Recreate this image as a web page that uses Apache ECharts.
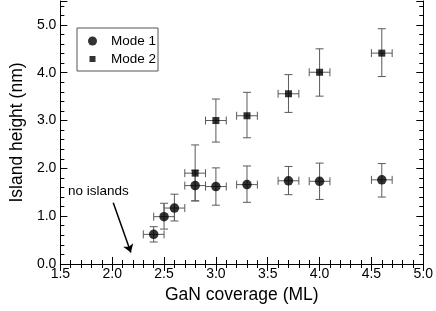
<!DOCTYPE html>
<html>
<head>
<meta charset="utf-8">
<script src="https://cdn.jsdelivr.net/npm/echarts@6/dist/echarts.min.js"></script>
<style>
  html, body { margin: 0; padding: 0; background: #fff; }
  #chart { width: 436px; height: 311px; }
</style>
</head>
<body>
<div id="chart"></div>
<script>
// ---- Data ----
const coverage1 = [2.4, 2.5, 2.6, 2.8, 3.0, 3.3, 3.7, 4.0, 4.6];
const height1   = [0.62, 0.99, 1.17, 1.64, 1.62, 1.66, 1.74, 1.73, 1.76];
const low1      = [0.46, 0.73, 0.90, 1.32, 1.23, 1.29, 1.45, 1.35, 1.40];
const high1     = [0.78, 1.27, 1.46, 1.96, 2.01, 2.05, 2.04, 2.11, 2.10];

const coverage2 = [2.8, 3.0, 3.3, 3.7, 4.0, 4.6];
const height2   = [1.90, 3.00, 3.10, 3.56, 4.01, 4.41];
const low2      = [1.32, 2.55, 2.64, 3.17, 3.51, 3.92];
const high2     = [2.49, 3.45, 3.59, 3.96, 4.50, 4.92];

const coverageErr = 0.1;

const seriesNames = ['Mode 1', 'Mode 2'];
const xTitle = 'GaN coverage (ML)';
const yTitle = 'Island height (nm)';
const annotationText = 'no islands';
const arrowStart = [2.01, 1.28];
const arrowEnd = [2.18, 0.24];

// ---- Build ----
const FONT = "'Liberation Sans', Arial, Helvetica, sans-serif";

function errData(xs, ys, lo, hi) {
  return xs.map((x, i) => [x, ys[i], x - coverageErr, x + coverageErr, lo[i], hi[i]]);
}

function renderErr(params, api) {
  const x = api.value(0), y = api.value(1);
  const xl = api.value(2), xh = api.value(3), yl = api.value(4), yh = api.value(5);
  const c = api.coord([x, y]);
  const pL = api.coord([xl, y]), pR = api.coord([xh, y]);
  const pB = api.coord([x, yl]), pT = api.coord([x, yh]);
  const cap = 4;
  const st = { stroke: '#5a5a5a', lineWidth: 1 };
  const line = (x1, y1, x2, y2) => ({ type: 'line', shape: { x1, y1, x2, y2 }, style: st });
  return {
    type: 'group',
    children: [
      line(pL[0], c[1], pR[0], c[1]),
      line(pL[0], c[1] - cap, pL[0], c[1] + cap),
      line(pR[0], c[1] - cap, pR[0], c[1] + cap),
      line(c[0], pB[1], c[0], pT[1]),
      line(c[0] - cap, pB[1], c[0] + cap, pB[1]),
      line(c[0] - cap, pT[1], c[0] + cap, pT[1])
    ]
  };
}

const axisLineStyle = { color: '#000', width: 1 };
const tickStyle = { color: '#000', width: 1 };

const chart = echarts.init(document.getElementById('chart'), null, { renderer: 'canvas' });

const option = {
  animation: false,
  backgroundColor: '#fff',
  textStyle: { fontFamily: FONT },
  grid: { left: 51, right: 11, top: 1, bottom: 47, containLabel: false },
  legend: {
    orient: 'vertical',
    left: 77, top: 28,
    padding: [6, 2, 5, 11],
    itemWidth: 9, itemHeight: 9, itemGap: 4,
    borderColor: '#555', borderWidth: 1,
    backgroundColor: '#fff',
    textStyle: { fontSize: 13.5, color: '#000', fontFamily: FONT, lineHeight: 14, padding: [0, 0, 0, 9] },
    data: [
      { name: seriesNames[0], icon: 'circle' },
      { name: seriesNames[1], icon: 'path://M0,0M9,9M1.5,1.5h6v6h-6z' }
    ],
    selectedMode: false
  },
  xAxis: [
    {
      type: 'value', position: 'bottom', min: 1.5, max: 5.0, interval: 0.5,
      name: xTitle, nameLocation: 'middle', nameGap: 20,
      nameTextStyle: { fontSize: 17.5, color: '#000', fontFamily: FONT },
      axisLine: { show: true, lineStyle: axisLineStyle },
      axisTick: { show: true, inside: true, length: 7, lineStyle: tickStyle },
      minorTick: { show: true, splitNumber: 5, length: 4, lineStyle: tickStyle },
      axisLabel: { fontSize: 14, color: '#000', margin: 3, fontFamily: FONT, formatter: v => v.toFixed(1) },
      splitLine: { show: false }
    },
    {
      type: 'value', position: 'top', min: 1.5, max: 5.0, interval: 0.5,
      axisLine: { show: true, lineStyle: axisLineStyle },
      axisTick: { show: true, inside: true, length: 7, lineStyle: tickStyle },
      minorTick: { show: true, splitNumber: 5, length: 4, lineStyle: tickStyle },
      axisLabel: { show: false },
      splitLine: { show: false }
    }
  ],
  yAxis: [
    {
      type: 'value', position: 'left', min: 0, max: 5.5, interval: 1,
      name: yTitle, nameLocation: 'middle', nameGap: 33,
      nameTextStyle: { fontSize: 17.5, color: '#000', fontFamily: FONT },
      axisLine: { show: true, lineStyle: axisLineStyle },
      axisTick: { show: true, inside: true, length: 7, lineStyle: tickStyle },
      axisLabel: { fontSize: 14, color: '#000', margin: 4, fontFamily: FONT,
        formatter: v => (v > 5.01 ? '' : v.toFixed(1)) },
      splitLine: { show: false }
    },
    {
      type: 'value', position: 'left', min: 0, max: 5.5, interval: 0.2,
      axisLine: { show: false },
      axisTick: { show: true, inside: true, length: 4, lineStyle: tickStyle },
      axisLabel: { show: false },
      splitLine: { show: false }
    },
    {
      type: 'value', position: 'right', min: 0, max: 5.5, interval: 1,
      axisLine: { show: true, lineStyle: axisLineStyle },
      axisTick: { show: true, inside: true, length: 7, lineStyle: tickStyle },
      axisLabel: { show: false },
      splitLine: { show: false }
    },
    {
      type: 'value', position: 'right', min: 0, max: 5.5, interval: 0.2,
      axisLine: { show: false },
      axisTick: { show: true, inside: true, length: 4, lineStyle: tickStyle },
      axisLabel: { show: false },
      splitLine: { show: false }
    }
  ],
  series: [
    {
      type: 'custom', name: 'err1', renderItem: renderErr, z: 2,
      data: errData(coverage1, height1, low1, high1), silent: true,
      encode: { x: 0, y: 1 }
    },
    {
      type: 'custom', name: 'err2', renderItem: renderErr, z: 2,
      data: errData(coverage2, height2, low2, high2), silent: true,
      encode: { x: 0, y: 1 }
    },
    {
      type: 'scatter', name: seriesNames[1], symbol: 'rect', symbolSize: 7, z: 3,
      itemStyle: { color: '#000' },
      data: coverage2.map((x, i) => [x, height2[i]])
    },
    {
      type: 'scatter', name: seriesNames[0], symbol: 'circle', symbolSize: 9.5, z: 4,
      itemStyle: { color: '#000' },
      data: coverage1.map((x, i) => [x, height1[i]]),
      markLine: {
        silent: true, animation: false, z: 5,
        symbol: ['none', 'arrow'], symbolSize: 8,
        lineStyle: { color: '#000', width: 1.5, type: 'solid', opacity: 1 },
        itemStyle: { color: '#000' },
        label: { show: false },
        emphasis: { disabled: true },
        data: [[{ coord: arrowStart }, { coord: arrowEnd }]]
      }
    }
  ],
  graphic: [
    {
      type: 'text', left: 68, top: 184,
      style: { text: annotationText, font: "13.5px 'Liberation Sans', Arial, sans-serif", fill: '#000' }
    }
  ]
};

chart.setOption(option);
</script>
</body>
</html>
